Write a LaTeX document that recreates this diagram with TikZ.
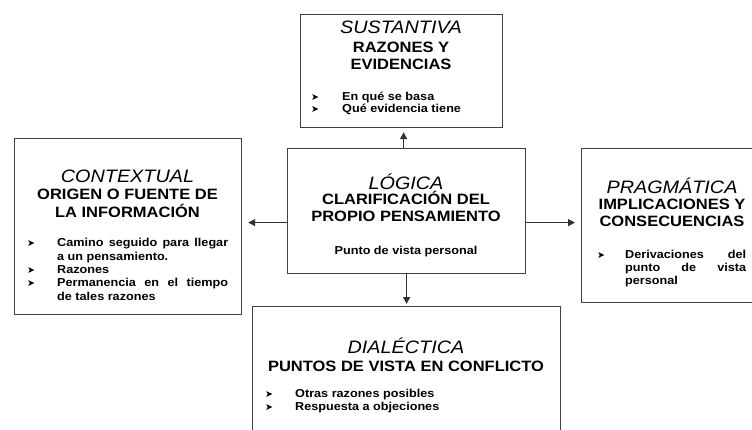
\documentclass[tikz,border=0pt]{standalone}
\usepackage{fontspec}
\setmainfont{Liberation Sans}[FakeStretch=1.1]
\newfontfamily\symfont{DejaVu Sans}
\usetikzlibrary{arrows.meta}

\begin{document}
\begin{tikzpicture}[x=1pt,y=-1pt]
	\tikzstyle{caja}=[draw=black!75,line width=1.2pt,rectangle,anchor=north west,inner sep=0pt]
	\tikzstyle{titulo}=[font=\fontsize{18}{20}\selectfont\itshape,anchor=base,inner sep=0pt]
	\tikzstyle{tema}=[font=\fontsize{15}{17}\selectfont\bfseries,anchor=base,inner sep=0pt]
	\tikzstyle{vineta}=[font=\symfont\fontsize{9.5}{10}\selectfont,anchor=base west,inner sep=0pt]
	\tikzstyle{texto}=[font=\fontsize{11.5}{13}\selectfont\bfseries,anchor=base west,inner sep=0pt]
	\tikzstyle{flecha}=[-{Triangle[length=7pt,width=7pt]},line width=1.4pt,draw=black!80]
	\useasboundingbox (0,0) rectangle (752,430);
	% cajas
	\node[caja,minimum width=202pt,minimum height=113pt](sus) at (300,14) {};
	\node[caja,minimum width=227pt,minimum height=176pt](ctx) at (14,138) {};
	\node[caja,minimum width=238pt,minimum height=125pt](log) at (287,148) {};
	\node[caja,minimum width=182pt,minimum height=154pt](pra) at (581,148) {};
	\node[caja,minimum width=308pt,minimum height=140pt](dia) at (252,306) {};
	% sustantiva
	\node[titulo](sus1) at (401,33.5) {SUSTANTIVA};
	\node[tema](sus2) at (401,52.5) {RAZONES Y};
	\node[tema](sus3) at (401,69.5) {EVIDENCIAS};
	\node[vineta](susv1) at (311,101) {➤};
	\node[texto](sust1) at (342,101) {En qué se basa};
	\node[vineta](susv2) at (311,113) {➤};
	\node[texto](sust2) at (342,113) {Qué evidencia tiene};
	% contextual
	\node[titulo](ctx1) at (127.5,182.5) {CONTEXTUAL};
	\node[tema](ctx2) at (127.5,199.5) {ORIGEN O FUENTE DE};
	\node[tema](ctx3) at (127.5,217.5) {LA INFORMACIÓN};
	\node[vineta](ctxv1) at (27,247) {➤};
	\node[texto](ctxt1) at (57,247) {\makebox[171pt][s]{Camino seguido para llegar}};
	\node[texto](ctxt2) at (57,260.5) {a un pensamiento.};
	\node[vineta](ctxv2) at (27,274) {➤};
	\node[texto](ctxt3) at (57,274) {Razones};
	\node[vineta](ctxv3) at (27,287) {➤};
	\node[texto](ctxt4) at (57,287) {\makebox[171pt][s]{Permanencia en el tiempo}};
	\node[texto](ctxt5) at (57,301) {de tales razones};
	% logica
	\node[titulo](log1) at (406,189.5) {LÓGICA};
	\node[tema](log2) at (406,204.5) {CLARIFICACIÓN DEL};
	\node[tema](log3) at (406,221.5) {PROPIO PENSAMIENTO};
	\node[texto,anchor=base](logt) at (406,255) {Punto de vista personal};
	% pragmatica
	\node[titulo](pra1) at (672,193.5) {PRAGMÁTICA};
	\node[tema](pra2) at (672,209.5) {IMPLICACIONES Y};
	\node[tema](pra3) at (672,226.5) {CONSECUENCIAS};
	\node[vineta](prav1) at (597,259) {➤};
	\node[texto](prat1) at (625,259) {\makebox[121pt][s]{Derivaciones del}};
	\node[texto](prat2) at (625,272) {\makebox[121pt][s]{punto de vista}};
	\node[texto](prat3) at (625,285) {personal};
	% dialectica
	\node[titulo](dia1) at (406,353.5) {DIALÉCTICA};
	\node[tema](dia2) at (406,371.5) {PUNTOS DE VISTA EN CONFLICTO};
	\node[vineta](diav1) at (265,397) {➤};
	\node[texto](diat1) at (295,397) {Otras razones posibles};
	\node[vineta](diav2) at (265,410) {➤};
	\node[texto](diat2) at (295,410) {Respuesta a objeciones};
	% flechas
	\draw[flecha,shorten >=4pt] ([xshift=-3pt]log.north) -- ([xshift=-3pt]log.north |- sus.south);
	\draw[flecha,shorten >=2pt] (log.south) -- (dia.north);
	\draw[flecha,shorten >=6pt] ([yshift=-11.5pt]log.west) -- ([yshift=-11.5pt]log.west -| ctx.east);
	\draw[flecha,shorten >=6pt] ([yshift=-11.5pt]log.east) -- ([yshift=-11.5pt]log.east -| pra.west);
\end{tikzpicture}
\end{document}
